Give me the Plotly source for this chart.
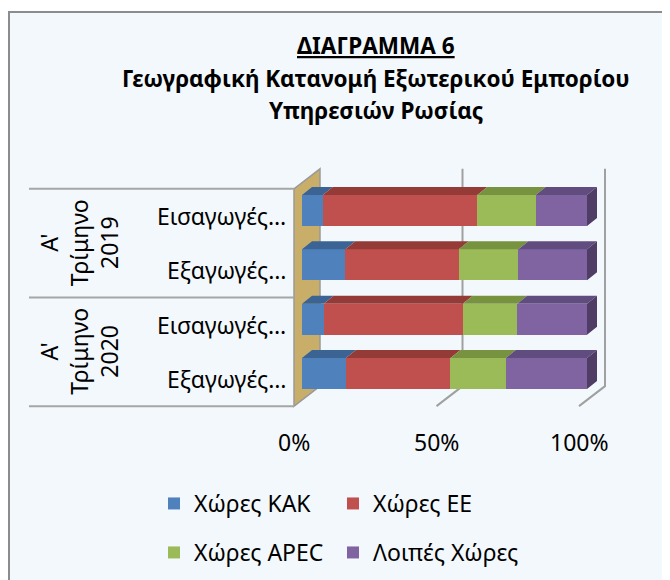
import plotly.graph_objects as go

# Data (shares, % of total), top to bottom
categories = ["Εισαγωγές…", "Εξαγωγές…", "Εισαγωγές…", "Εξαγωγές…"]
groups = ["Α'<br>Τρίμηνο<br>2019", "Α'<br>Τρίμηνο<br>2020"]
series_names = ["Χώρες ΚΑΚ", "Χώρες ΕΕ", "Χώρες APEC", "Λοιπές Χώρες"]
kak = [7.3, 15.2, 7.6, 15.4]
ee = [54.2, 39.8, 48.8, 36.7]
apec = [20.5, 20.9, 19.1, 19.4]
other = [18.0, 24.1, 24.5, 28.5]
tick_vals = [0, 50, 100]
tick_text = ["0%", "50%", "100%"]

FRONT = ["#4F81BD", "#C0504D", "#9BBB59", "#8064A2"]
TOP = ["#3B6494", "#943B38", "#77933F", "#614C80"]
SIDE = "#4F3D66"
GRID = "#A0A0A0"
FONT = "Noto Sans"

# page is shown with the browser's 8px body margin
OFF = 8
W, H = 670 - OFF, 580 - OFF


def px(x):
    return (x - OFF) / W


def py(y):
    return 1 - (y - OFF) / H


PX_PCT = 2.85          # pixels per percent
PX_CAT = 54.33         # pixels per category
BAR_W = 0.57
# 3D offsets in data units (x in %, y in category units; y axis reversed)
DEPTH_X, DEPTH_Y = 10 / PX_PCT, -8 / PX_CAT          # bar depth
FRONT_X, FRONT_Y = -8 / PX_PCT, 5.5 / PX_CAT         # front plane vs bar plane
BACK_X, BACK_Y = 18 / PX_PCT, -14.5 / PX_CAT         # back plane vs bar plane

x0_px, x_lo, x_hi = 302, -3.5, 112
y0_px, y_lo, y_hi = 210.5, -0.95, 3.85
xdom = [px(x0_px + x_lo * PX_PCT), px(x0_px + x_hi * PX_PCT)]
ydom = [py(y0_px + y_hi * PX_CAT), py(y0_px + y_lo * PX_CAT)]

series = [kak, ee, apec, other]
ypos = list(range(len(categories)))

fig = go.Figure()

# front faces, one legend per entry so the 2x2 legend grid can be placed
legend_ids = ["legend", "legend2", "legend3", "legend4"]
for i, (name, vals) in enumerate(zip(series_names, series)):
    fig.add_trace(go.Bar(
        y=ypos, x=vals, orientation="h", name=name,
        marker=dict(color=FRONT[i], line=dict(width=0)),
        width=BAR_W,
        legend=legend_ids[i],
        hovertemplate=f"{name}: %{{x:.1f}}%<extra></extra>",
    ))

# top faces and right side face (3D look)
bases = [0.0] * len(categories)
for i, vals in enumerate(series):
    xs, ys = [], []
    for k, v in enumerate(vals):
        a, b = bases[k], bases[k] + v
        yt = k - BAR_W / 2
        xs += [a, b, b + DEPTH_X, a + DEPTH_X, a, None]
        ys += [yt, yt, yt + DEPTH_Y, yt + DEPTH_Y, yt, None]
        bases[k] = b
    fig.add_trace(go.Scatter(x=xs, y=ys, mode="lines", fill="toself",
                             fillcolor=TOP[i], line=dict(width=0),
                             showlegend=False, hoverinfo="skip"))
xs, ys = [], []
for k, tot in enumerate(bases):
    yt, yb = k - BAR_W / 2, k + BAR_W / 2
    xs += [tot, tot + DEPTH_X, tot + DEPTH_X, tot, tot, None]
    ys += [yt, yt + DEPTH_Y, yb + DEPTH_Y, yb, yt, None]
fig.add_trace(go.Scatter(x=xs, y=ys, mode="lines", fill="toself",
                         fillcolor=SIDE, line=dict(width=0),
                         showlegend=False, hoverinfo="skip"))

shapes = []
# chart area background + border
shapes.append(dict(type="rect", xref="paper", yref="paper", layer="below",
                   x0=px(9), x1=1.05, y0=-0.05, y1=py(12),
                   fillcolor="#F3F8FC", line=dict(color="#8C8C8C", width=2)))
# side wall
n = len(categories)
top_f, bot_f = -0.5 + FRONT_Y, n - 0.5 + FRONT_Y
top_b, bot_b = -0.5 + BACK_Y, n - 0.5 + BACK_Y
shapes.append(dict(type="path", xref="x", yref="y", layer="below",
                   path=f"M {FRONT_X},{top_f} L {FRONT_X},{bot_f} L {BACK_X},{bot_b} L {BACK_X},{top_b} Z",
                   fillcolor="#C8AE68", line=dict(color="#9A9A9A", width=1.5)))
# gridlines: back wall + floor
for t in tick_vals[1:]:
    shapes.append(dict(type="path", xref="x", yref="y", layer="below",
                       path=f"M {t + BACK_X},{top_b} L {t + BACK_X},{bot_b} L {t + FRONT_X},{bot_f}",
                       line=dict(color=GRID, width=2)))
# category table lines
for yb in [top_f, top_f + 2, bot_f]:
    shapes.append(dict(type="line", xref="paper", yref="y", x0=px(29),
                       x1=px(x0_px + FRONT_X * PX_PCT), y0=yb, y1=yb,
                       line=dict(color="#A6A6A6", width=2)))

annotations = []
# category labels
for k, c in enumerate(categories):
    annotations.append(dict(x=px(288), y=k + FRONT_Y, xref="paper", yref="y",
                            text=c, showarrow=False, xanchor="right", yanchor="middle",
                            font=dict(family=FONT, size=23, color="#000000")))
# group labels
for g, lab in enumerate(groups):
    annotations.append(dict(x=px(79), y=2 * g + 0.5 + FRONT_Y, xref="paper", yref="y",
                            text=lab, showarrow=False, textangle=-90,
                            xanchor="center", yanchor="middle",
                            font=dict(family=FONT, size=23, color="#000000")))
# x tick labels at the floor front
for t, lab in zip(tick_vals, tick_text):
    annotations.append(dict(x=t + FRONT_X, y=py(442), xref="x", yref="paper",
                            text=lab, showarrow=False, xanchor="center", yanchor="middle",
                            font=dict(family=FONT, size=23, color="#000000")))
# title
title_lines = ["<b><u>ΔΙΑΓΡΑΜΜΑ 6</u></b>",
               "<b>Γεωγραφική Κατανομή Εξωτερικού Εμπορίου</b>",
               "<b>Υπηρεσιών Ρωσίας</b>"]
for t, yy in zip(title_lines, [45, 78, 110]):
    annotations.append(dict(x=px(376), y=py(yy), xref="paper", yref="paper",
                            text=t, showarrow=False, xanchor="center", yanchor="middle",
                            font=dict(family=FONT, size=22.5, color="#000000")))

legend_style = dict(orientation="h", xanchor="left", yanchor="top",
                    bgcolor="rgba(0,0,0,0)",
                    font=dict(family=FONT, size=23, color="#000000"))
legend_pos = [(154, 482), (333, 482), (154, 531), (333, 531)]

fig.update_layout(
    width=W, height=H,
    margin=dict(l=0, r=0, t=0, b=0),
    paper_bgcolor="#FFFFFF", plot_bgcolor="rgba(0,0,0,0)",
    barmode="stack", bargap=0,
    xaxis=dict(domain=xdom, range=[x_lo, x_hi], showgrid=False, zeroline=False,
               showticklabels=False, fixedrange=True),
    yaxis=dict(domain=ydom, range=[y_hi, y_lo], showgrid=False, zeroline=False,
               showticklabels=False, fixedrange=True),
    shapes=shapes, annotations=annotations,
)
for lid, (lx, ly) in zip(legend_ids, legend_pos):
    fig.update_layout({lid: dict(x=px(lx), y=py(ly), **legend_style)})

fig.write_html("out.html")
